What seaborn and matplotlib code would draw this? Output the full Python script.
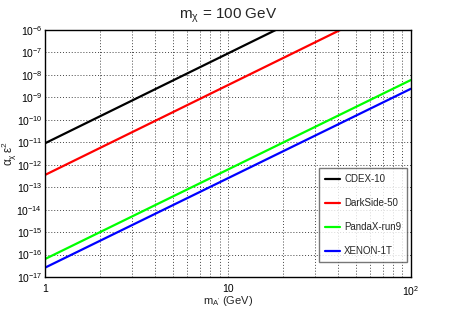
import numpy as np
import pandas as pd
import matplotlib
matplotlib.use('Agg')
import matplotlib.pyplot as plt
import seaborn as sns
from matplotlib.ticker import LogLocator, FixedLocator, FixedFormatter, NullFormatter

# ================================
# 데이터
# ================================
m_A = [1, 10, 100]
cdex10 = [9.0e-12, 9.0e-8, 9.0e-4]
darkside50 = [3.5e-13, 3.5e-9, 3.5e-5]
pandax_run9 = [6.3e-17, 6.1e-13, 5.9e-9]
xenon1t = [2.6e-17, 2.5e-13, 2.4e-9]

experiments = ['CDEX-10', 'DarkSide-50', 'PandaX-run9', 'XENON-1T']
colors = ['#000000', '#ff0000', '#00ff00', '#0000ff']

x_ticks = [1, 10, 100]
x_ticklabels = ['1', '10', '$10^{2}$']

df = pd.concat([
    pd.DataFrame({'m': m_A, 'limit': vals, 'experiment': name})
    for name, vals in zip(experiments, [cdex10, darkside50, pandax_run9, xenon1t])
])

# ================================
# 스타일
# ================================
sns.set_style('white')
plt.rcParams['font.family'] = ['Liberation Sans', 'DejaVu Sans']
plt.rcParams['mathtext.fontset'] = 'custom'
plt.rcParams['mathtext.rm'] = 'Liberation Sans'
plt.rcParams['mathtext.it'] = 'Liberation Sans:italic'
plt.rcParams['mathtext.default'] = 'regular'

fig = plt.figure(figsize=(4.57, 3.09), dpi=100)
ax = fig.add_axes([0.0985, 0.1036, 0.8005, 0.7994])

sns.lineplot(
    data=df, x='m', y='limit', hue='experiment', hue_order=experiments,
    palette=dict(zip(experiments, colors)), linewidth=1.6, ax=ax
)

ax.set_xscale('log')
ax.set_yscale('log')
ax.set_xlim(1, 100)
ax.set_ylim(1e-17, 1e-6)

ax.xaxis.set_major_locator(FixedLocator(x_ticks))
ax.xaxis.set_major_formatter(FixedFormatter(x_ticklabels))
ax.xaxis.set_minor_locator(LogLocator(base=10, subs=np.arange(2, 10), numticks=50))
ax.xaxis.set_minor_formatter(NullFormatter())
ax.yaxis.set_major_locator(LogLocator(base=10, numticks=30))
ax.yaxis.set_minor_locator(LogLocator(base=10, subs=np.arange(2, 10), numticks=200))
ax.yaxis.set_minor_formatter(NullFormatter())

ax.tick_params(which='both', direction='in', labelsize=7.5, colors='#222222', labelcolor='black')
ax.tick_params(which='major', length=6, width=0.8)
ax.tick_params(which='minor', length=3.5, width=0.6)
ax.tick_params(axis='x', pad=5)
ax.tick_params(axis='y', pad=2)

ax.grid(True, which='major', axis='both', linestyle=(0, (1, 2)), color='#444444', linewidth=0.7)
ax.grid(True, which='minor', axis='x', linestyle=(0, (1, 2)), color='#444444', linewidth=0.7)

for s in ax.spines.values():
    s.set_color('black')
    s.set_linewidth(1.0)

ax.set_title(r'm$_{\chi}$ = 100 GeV', fontsize=11, pad=8)
ax.set_xlabel(r"m$_{A'}$ (GeV)", fontsize=8)
ax.xaxis.set_label_coords(0.5, -0.068)
ax.set_ylabel(r'$\alpha_{\chi}\,\varepsilon^{2}$', fontsize=8.5)
ax.yaxis.set_label_coords(-0.07, 0.5)

leg = ax.legend(
    loc='lower right', bbox_to_anchor=(0.99, 0.06), borderaxespad=0,
    fontsize=7, frameon=True, fancybox=False, edgecolor='#555555',
    labelspacing=1.45, handlelength=1.6, handletextpad=0.4, borderpad=0.6
)
leg.get_frame().set_linewidth(1.0)
for line in leg.get_lines():
    line.set_linewidth(1.6)

plt.savefig('out.png', dpi=100)
